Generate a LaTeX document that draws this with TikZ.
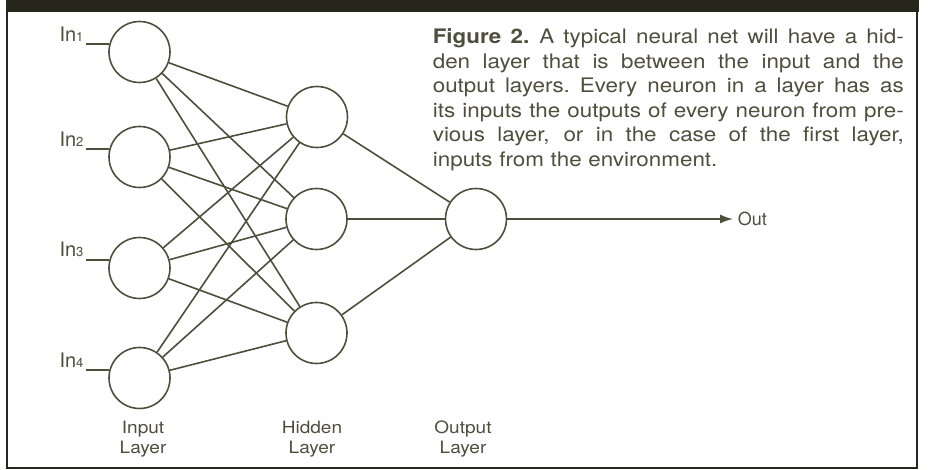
\documentclass[tikz,border=0pt]{standalone}
\usepackage{fontspec}
\setmainfont{TeX Gyre Heros}
\newfontfamily\widefont[FakeStretch=1.12]{TeX Gyre Heros}
\usetikzlibrary{arrows.meta}
\definecolor{ink}{RGB}{78,78,60}
\definecolor{band}{RGB}{38,38,28}
\newcommand{\capline}[1]{\noindent\hbox to 235.5pt{\spaceskip=0.3em plus 2em minus 0.1em\relax #1}}

\begin{document}
\begin{tikzpicture}[x=0.5pt, y=-0.5pt, color=ink, line width=0.8pt,
    neuron/.style={circle, draw, minimum size=30.5pt, inner sep=0pt},
    layername/.style={align=center, font=\widefont\fontsize{8.5}{10}\selectfont},
    inname/.style={anchor=south east, inner sep=1pt, font=\fontsize{10}{12}\selectfont}]
    \useasboundingbox (0,0) rectangle (939,470);

    % Frame
    \fill[band] (6,0) rectangle (919,12);
    \draw[band, line width=1pt] (7,12) -- (7,468) -- (917,468) -- (917,12);

    % Input layer
    \node[neuron] (in1) at (139.5,52) {};
    \node[neuron] (in2) at (139.5,157) {};
    \node[neuron] (in3) at (139.5,268) {};
    \node[neuron] (in4) at (139.5,378) {};

    % Hidden layer
    \node[neuron] (hid1) at (317,117) {};
    \node[neuron] (hid2) at (316.5,219) {};
    \node[neuron] (hid3) at (316.5,333) {};

    % Output layer
    \node[neuron] (out) at (476,219) {};

    % Weights
    \foreach \i in {1,...,4}
        \foreach \h in {1,2,3}
            \draw (in\i) -- (hid\h);
    \foreach \h in {1,2,3}
        \draw (hid\h) -- (out);

    % Inputs from the environment
    \foreach \i in {1,...,4} {
        \draw (in\i.165) -- ++(-23,0) coordinate (lead\i);
        \node[inname] (inlab\i) at (lead\i) {In{\fontsize{6.5}{7}\selectfont\i}};
    }

    % Output
    \coordinate (outend) at (733,219);
    \draw[-{Latex[length=6.5pt, width=4.5pt]}] (out) -- (outend);
    \node[anchor=west, inner sep=2pt, font=\fontsize{9}{11}\selectfont] (outlab) at (outend) {Out};

    % Layer names
    \node[layername] (inputname) at (143,439) {Input\\Layer};
    \node[layername] (hiddenname) at (312,439) {Hidden\\Layer};
    \node[layername] (outputname) at (463,439) {Output\\Layer};

    % Caption
    \node[anchor=north west, inner sep=0pt, text width=235.5pt,
          font=\widefont\fontsize{10}{12.25}\selectfont] (caption) at (432,28) {%
        \capline{\textbf{Figure 2.} A typical neural net will have a hid-}\\
        \capline{den layer that is between the input and the}\\
        \capline{output layers. Every neuron in a layer has as}\\
        \capline{its inputs the outputs of every neuron from pre-}\\
        \capline{vious layer, or in the case of the first layer,}\\
        inputs from the environment.};
\end{tikzpicture}
\end{document}
